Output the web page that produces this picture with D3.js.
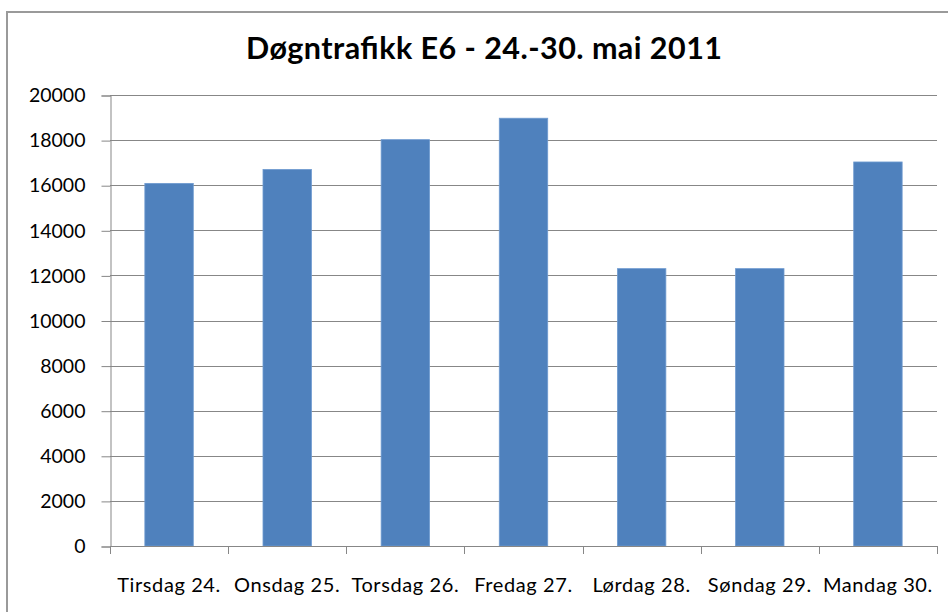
<!DOCTYPE html>
<html><head><meta charset="utf-8">
<script src="https://cdn.jsdelivr.net/npm/d3@7"></script>
<style>body{margin:0;background:#fff}svg{display:block}</style>
</head><body>
<script>
const title = "Døgntrafikk E6 - 24.-30. mai 2011";
const categories = ["Tirsdag 24.","Onsdag 25.","Torsdag 26.","Fredag 27.","Lørdag 28.","Søndag 29.","Mandag 30."];
const values = [16080, 16700, 18020, 18970, 12300, 12300, 17030];
const yTicks = [0,2000,4000,6000,8000,10000,12000,14000,16000,18000,20000];

const W = 948, H = 612;
const m = {left:110, right:11, top:95, bottom:66};
const svg = d3.select("body").append("svg").attr("width",W).attr("height",H);
svg.append("rect").attr("x",7).attr("y",12).attr("width",W).attr("height",H)
  .attr("fill","#fff").attr("stroke","#9a9a9a").attr("stroke-width",2);

const x = d3.scaleBand().domain(categories).range([m.left, W-m.right]).paddingInner(0.59).paddingOuter(0.295);
const y = d3.scaleLinear().domain([0,20000]).range([H-m.bottom, m.top]);

// gridlines
svg.append("g").selectAll("line").data(yTicks.filter(d=>d>0)).join("line")
  .attr("x1",m.left).attr("x2",W-m.right)
  .attr("y1",d=>Math.round(y(d))+0.5).attr("y2",d=>Math.round(y(d))+0.5)
  .attr("stroke","#878787").attr("stroke-width",1);

// y axis
const ya = svg.append("g").attr("transform",`translate(${m.left+0.5},0.5)`)
  .call(d3.axisLeft(y).tickValues(yTicks).tickSize(9).tickPadding(16).tickFormat(d3.format("d")));
ya.selectAll("path,line").attr("stroke","#878787");
ya.selectAll("text").attr("font-family","Lato, Carlito, sans-serif").attr("font-size",19.5).attr("fill","#000");

// bars
svg.append("g").selectAll("rect").data(values).join("rect")
  .attr("x",(d,i)=>x(categories[i])).attr("width",x.bandwidth())
  .attr("y",d=>y(d)).attr("height",d=>y(0)-y(d))
  .attr("fill","#4F81BD").attr("stroke","#6f9bd0").attr("stroke-width",0.8);

// x axis
const bandStep = x.step();
const boundaries = d3.range(categories.length+1).map(i=>m.left + i*bandStep);
const xa = svg.append("g");
xa.append("line").attr("x1",m.left).attr("x2",W-m.right).attr("y1",y(0)+0.5).attr("y2",y(0)+0.5).attr("stroke","#878787");
xa.selectAll("line.t").data(boundaries).join("line").attr("class","t")
  .attr("x1",d=>Math.round(d)+0.5).attr("x2",d=>Math.round(d)+0.5)
  .attr("y1",y(0)).attr("y2",y(0)+8).attr("stroke","#878787");
xa.selectAll("text").data(categories).join("text")
  .attr("x",d=>x(d)+x.bandwidth()/2).attr("y",592)
  .attr("text-anchor","middle").attr("font-family","Lato, Carlito, sans-serif").attr("font-size",20).attr("letter-spacing",0.6).attr("fill","#000")
  .text(d=>d);

svg.append("text").attr("x",484).attr("y",59).attr("text-anchor","middle")
  .attr("font-family","Lato, Carlito, sans-serif").attr("font-weight","bold").attr("font-size",30.5)
  .attr("textLength",476).attr("lengthAdjust","spacing")
  .attr("fill","#000").text(title);
</script>
</body></html>
